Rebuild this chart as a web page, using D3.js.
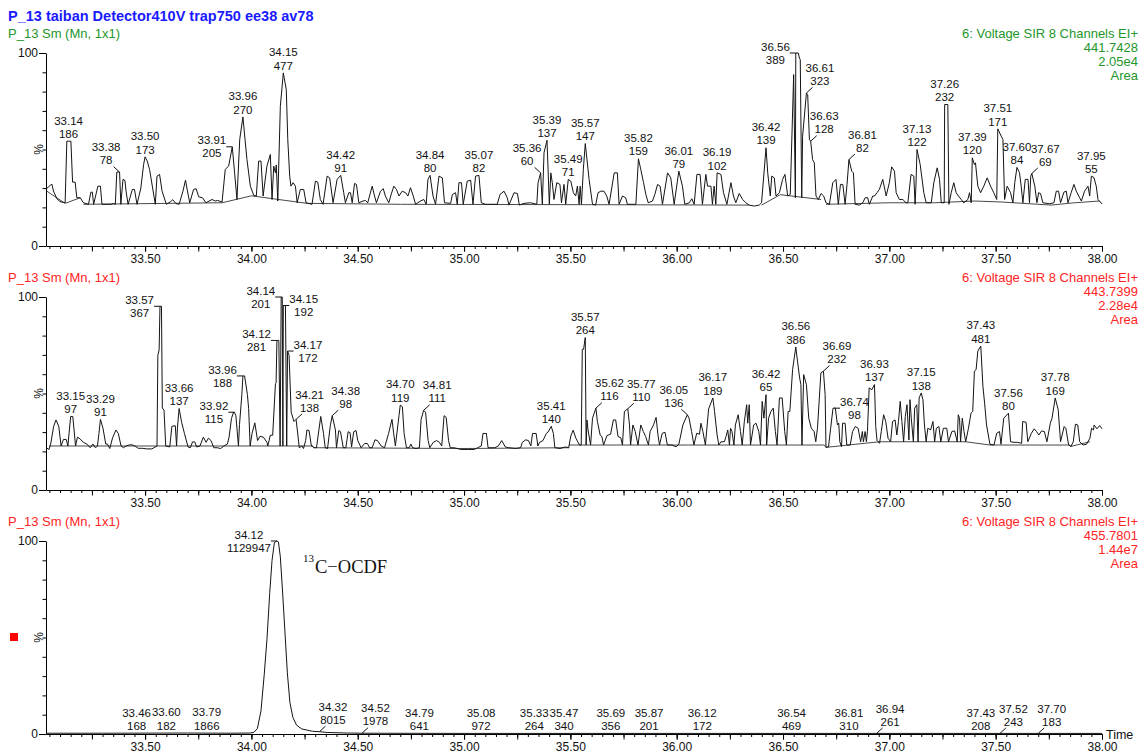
<!DOCTYPE html>
<html>
<head>
<meta charset="utf-8">
<script src="https://cdn.jsdelivr.net/npm/d3@7"></script>
<style>
  html, body { margin: 0; padding: 0; background: #fff; }
  svg { display: block; font-family: "Liberation Sans", Arial, sans-serif; }
</style>
</head>
<body>
<svg id="chart" width="1143" height="753"></svg>
<script>
// ---------- run / channel header text ----------
const runTitle = "P_13 taiban Detector410V trap750 ee38 av78";
const traceNames = ["P_13 Sm (Mn, 1x1)", "P_13 Sm (Mn, 1x1)", "P_13 Sm (Mn, 1x1)"];
const functionNames = ["6: Voltage SIR 8 Channels EI+", "6: Voltage SIR 8 Channels EI+", "6: Voltage SIR 8 Channels EI+"];
const channelMasses = ["441.7428", "443.7399", "455.7801"];
const fullScales = ["2.05e4", "2.28e4", "1.44e7"];
const scaleUnits = ["Area", "Area", "Area"];

// ---------- axes ----------
const timeRange = [33.034, 38.0];
const xTickLabels = ["33.50", "34.00", "34.50", "35.00", "35.50", "36.00", "36.50", "37.00", "37.50", "38.00"];
const yTickValues = [0, 100];
const yTickLabels = ["0", "100"];
const xAxisTitle = "Time";
const compoundName = ["13", "C\u2212OCDF"];

// ---------- m/z 441.7428 trace: [time (min), relative intensity %] ----------
const trace441 = [
[33.034,29.5],[33.045,30.5],[33.055,31.5],[33.062,32.0],[33.069,28.5],[33.085,24.5],[33.100,23.0],[33.124,22.4],
[33.132,54.3],[33.140,54.3],[33.151,54.3],[33.159,33.1],[33.171,33.1],[33.179,25.0],[33.195,25.0],[33.210,22.4],[33.234,21.6],
[33.245,27.9],[33.252,27.9],[33.258,21.6],[33.278,31.0],[33.290,31.0],[33.297,21.6],[33.340,21.6],[33.350,22.0],[33.360,21.6],
[33.367,38.3],[33.380,38.3],[33.386,21.6],[33.396,34.5],[33.405,34.0],[33.411,28.0],[33.420,21.6],
[33.440,29.3],[33.450,29.3],[33.462,21.6],[33.480,30.0],[33.493,42.2],[33.500,46.2],[33.510,44.0],[33.521,39.7],[33.548,21.6],
[33.556,36.2],[33.568,37.1],[33.580,28.4],[33.600,21.6],[33.620,23.0],[33.630,24.0],[33.645,22.0],[33.660,21.6],
[33.678,28.4],[33.690,34.1],[33.700,28.0],[33.710,22.4],[33.728,29.3],[33.740,29.7],[33.752,25.5],[33.770,25.0],[33.786,22.4],
[33.815,24.1],[33.830,23.3],[33.841,23.6],[33.862,22.8],[33.877,39.7],[33.893,41.4],[33.910,51.4],[33.921,37.9],[33.932,24.1],
[33.945,55.2],[33.960,66.9],[33.970,55.2],[33.979,44.8],[33.995,31.0],[34.011,26.2],[34.023,25.9],[34.034,44.0],[34.045,44.0],[34.055,25.9],
[34.073,41.4],[34.089,47.4],[34.097,24.1],[34.105,41.4],[34.113,37.9],[34.117,42.0],[34.124,23.3],[34.136,72.4],[34.150,89.7],[34.164,81.0],
[34.171,55.2],[34.180,36.2],[34.186,31.0],[34.196,32.8],[34.207,31.0],[34.215,22.4],[34.230,29.3],[34.246,29.3],[34.257,22.4],[34.285,21.6],
[34.301,33.6],[34.312,33.1],[34.324,24.1],[34.337,21.6],[34.356,36.2],[34.368,35.3],[34.384,22.4],[34.403,34.5],[34.420,36.6],[34.434,27.6],
[34.442,22.4],[34.458,27.6],[34.466,27.6],[34.474,22.4],[34.485,32.4],[34.494,31.9],[34.505,22.4],[34.525,23.3],[34.536,23.6],[34.547,22.4],
[34.568,31.0],[34.579,25.9],[34.588,22.4],[34.607,28.4],[34.620,29.7],[34.630,25.9],[34.646,22.4],
[34.658,27.0],[34.670,31.0],[34.682,29.3],[34.694,25.9],[34.709,28.4],[34.725,27.6],[34.736,25.9],[34.748,30.2],[34.761,25.9],[34.772,21.6],
[34.795,23.3],[34.811,24.1],[34.822,21.6],[34.830,34.5],[34.840,36.6],[34.854,25.9],[34.866,21.6],[34.882,36.2],[34.898,35.3],[34.908,22.4],
[34.937,22.1],[34.945,26.7],[34.960,27.6],[34.968,21.6],[34.976,32.8],[34.988,32.8],[34.996,21.6],[35.015,33.6],[35.031,34.1],[35.042,21.6],
[35.054,36.2],[35.070,36.6],[35.081,22.4],[35.101,21.6],[35.156,21.6],[35.169,26.7],[35.188,28.4],[35.203,25.0],[35.211,21.2],[35.235,27.6],
[35.251,27.2],[35.260,21.2],[35.282,22.1],[35.313,22.4],[35.342,21.6],[35.348,32.8],[35.360,37.9],[35.368,21.6],[35.376,48.3],[35.390,54.8],
[35.401,21.6],[35.408,37.9],[35.415,32.8],[35.423,24.1],[35.436,32.8],[35.451,31.9],[35.458,22.4],[35.470,31.9],[35.478,21.6],[35.490,34.5],
[35.502,33.6],[35.514,27.6],[35.525,25.9],[35.533,31.0],[35.541,21.6],[35.546,31.0],[35.552,21.6],[35.561,39.7],[35.570,53.1],[35.588,34.5],
[35.604,21.6],[35.619,21.2],[35.630,27.6],[35.643,28.4],[35.658,28.4],[35.671,25.9],[35.682,21.6],[35.706,37.9],[35.721,37.9],[35.729,21.6],
[35.745,25.9],[35.760,25.0],[35.768,21.6],[35.808,21.6],[35.820,45.2],[35.831,39.7],[35.844,32.8],[35.855,26.7],[35.866,22.4],[35.886,23.3],
[35.897,26.7],[35.910,31.9],[35.922,31.0],[35.933,21.6],[35.957,37.9],[35.972,35.3],[35.988,21.6],[36.010,38.8],[36.027,31.0],[36.038,21.6],
[36.059,22.4],[36.071,24.5],[36.082,21.6],[36.095,37.1],[36.110,37.1],[36.121,21.6],[36.137,37.1],[36.145,31.0],[36.161,31.0],[36.168,21.6],
[36.176,31.0],[36.184,21.6],[36.190,37.9],[36.208,37.1],[36.220,27.6],[36.236,21.6],[36.255,32.8],[36.267,25.9],[36.278,22.4],[36.294,27.2],
[36.310,24.1],[36.325,22.4],[36.341,21.2],
[36.365,20.7],[36.388,21.2],[36.399,22.4],[36.420,50.9],[36.428,37.9],[36.440,25.9],[36.447,36.2],[36.459,35.3],[36.467,25.9],[36.483,27.6],
[36.498,34.5],[36.509,37.1],[36.522,25.9],[36.534,26.7],[36.550,88.8],[36.558,25.0],[36.560,100],[36.572,100],[36.577,97.4],[36.581,96.6],
[36.588,25.0],[36.592,56.9],[36.610,79.3],[36.616,78.4],[36.624,55.2],[36.630,54.3],[36.639,44.8],[36.647,43.1],[36.655,25.9],[36.666,24.1],
[36.679,27.2],[36.691,25.9],[36.702,22.4],[36.718,21.6],[36.734,32.8],[36.749,34.5],[36.760,21.6],[36.770,31.9],[36.781,31.9],[36.792,21.6],
[36.801,31.9],[36.810,44.8],[36.823,38.8],[36.831,37.9],[36.839,21.6],[36.859,21.2],[36.875,22.4],[36.886,25.0],[36.898,25.0],[36.906,21.6],
[36.922,25.9],[36.930,25.9],[36.942,27.6],[36.953,29.3],[36.969,34.5],[36.985,25.9],[37.000,32.8],[37.011,41.0],[37.024,38.8],[37.032,27.6],
[37.047,24.1],[37.063,24.1],[37.079,22.4],[37.087,22.4],[37.102,37.1],[37.115,36.2],[37.121,21.6],[37.125,31.0],[37.130,50.0],[37.145,42.2],
[37.162,27.6],[37.173,22.4],[37.197,22.4],[37.209,32.8],[37.225,40.5],[37.236,34.5],[37.244,22.4],[37.258,22.4],[37.260,73.3],[37.275,73.3],
[37.280,21.6],[37.291,27.6],[37.303,32.8],[37.314,27.6],[37.325,25.9],[37.338,24.1],[37.350,22.4],[37.369,24.1],[37.377,27.6],[37.385,22.4],
[37.390,45.7],[37.400,42.2],[37.405,43.1],[37.416,31.0],[37.429,27.6],[37.444,31.0],[37.460,35.3],[37.476,31.0],[37.491,27.6],[37.505,24.1],
[37.510,60.7],[37.526,56.9],[37.534,55.2],[37.542,24.1],[37.554,31.0],[37.570,27.6],[37.581,22.4],[37.590,33.0],[37.600,40.7],[37.612,38.0],
[37.620,31.0],[37.628,22.4],[37.639,34.5],[37.652,34.5],[37.659,22.4],[37.665,36.2],[37.670,37.6],[37.684,31.0],[37.694,22.4],[37.702,27.6],
[37.711,27.2],[37.722,22.4],[37.753,21.9],[37.774,22.4],[37.785,28.4],[37.796,28.4],[37.805,22.4],[37.821,27.9],[37.832,28.4],[37.840,22.4],
[37.855,27.6],[37.868,31.9],[37.879,28.4],[37.895,25.0],[37.903,23.3],[37.918,28.4],[37.934,31.0],[37.942,25.9],[37.950,36.2],[37.962,35.5],
[37.973,31.0],[37.981,24.1],[37.992,22.8],[38.000,21.8]
];
const baselines441 = [
  [[33.038,28.4],[33.124,22.1],[33.195,25.0]],
  [[33.210,21.6],[33.862,22.4]],
  [[33.862,22.4],[34.000,26.0],[34.262,22.1],[34.701,21.6]],
  [[34.701,21.6],[35.600,21.4],[36.341,21.2]],
  [[36.399,21.2],[36.487,26.6],[36.679,24.1]],
  [[36.702,21.6],[37.000,22.4],[37.212,22.4],[37.400,23.3],[37.526,22.8],[37.761,21.2],[37.871,22.4],[37.989,23.3]]
];
const peakTimes441 = [33.14,33.38,33.50,33.91,33.96,34.15,34.42,34.84,35.07,35.36,35.39,35.49,35.57,35.82,36.01,36.19,36.42,36.56,36.61,36.63,36.81,37.13,37.26,37.39,37.51,37.60,37.67,37.95];
const peakAreas441 = [186,78,173,205,270,477,91,80,82,60,137,71,147,159,79,102,139,389,323,128,82,122,232,120,171,84,69,55];

// ---------- m/z 443.7399 trace ----------
const trace443 = [
[33.034,22.0],[33.048,21.0],[33.056,23.8],[33.070,33.0],[33.081,36.3],[33.094,33.0],[33.105,22.8],[33.116,26.2],[33.129,26.2],[33.137,22.8],
[33.143,30.0],[33.150,38.1],[33.160,38.1],[33.173,22.8],[33.182,27.4],[33.194,26.5],[33.210,24.7],[33.226,23.8],[33.242,21.9],[33.255,23.8],
[33.266,21.9],[33.276,22.8],[33.283,29.3],[33.290,36.6],[33.302,32.0],[33.315,23.8],[33.323,23.8],[33.334,21.5],[33.347,27.0],[33.363,31.1],
[33.374,29.3],[33.387,22.8],[33.398,21.9],[33.411,22.8],[33.427,23.4],[33.439,23.4],[33.452,22.8],[33.468,21.6],[33.487,21.6],[33.508,21.3],
[33.532,21.3],[33.556,22.8],[33.560,69.8],[33.566,72.6],[33.570,95.2],[33.577,95.2],[33.581,42.5],[33.589,41.3],[33.597,22.8],[33.616,22.3],
[33.626,33.0],[33.642,33.3],[33.648,22.8],[33.652,32.0],[33.660,42.2],[33.672,35.0],[33.685,29.3],[33.702,22.3],[33.713,21.9],[33.723,24.9],
[33.734,24.9],[33.742,22.3],[33.758,22.8],[33.774,27.4],[33.787,24.7],[33.798,26.9],[33.810,25.6],[33.823,21.9],[33.839,21.9],[33.855,21.5],
[33.871,22.8],[33.887,23.8],[33.895,27.4],[33.906,37.0],[33.916,40.3],[33.920,40.3],[33.927,38.5],[33.939,22.8],[33.944,33.9],[33.955,49.5],
[33.960,59.1],[33.968,59.1],[33.981,49.5],[33.987,42.2],[33.994,22.8],[34.003,29.3],[34.016,34.8],[34.029,25.6],[34.040,27.8],[34.056,27.4],
[34.073,24.7],[34.077,22.8],[34.089,28.4],[34.100,28.4],[34.113,55.1],[34.116,55.4],[34.120,77.5],[34.129,77.5],[34.135,22.8],[34.140,100],
[34.145,100],[34.148,22.8],[34.150,95.6],[34.160,95.6],[34.166,22.8],[34.170,72.0],[34.177,69.8],[34.187,40.3],[34.200,35.5],[34.210,36.6],
[34.218,29.0],[34.225,21.9],[34.237,22.8],[34.245,21.5],[34.255,25.6],[34.261,31.1],[34.271,30.8],[34.282,22.8],[34.298,21.9],
[34.306,21.9],[34.326,38.1],[34.339,29.3],[34.347,21.9],[34.358,21.5],[34.371,33.3],[34.380,38.5],[34.395,31.1],[34.400,21.9],[34.411,30.8],
[34.419,30.2],[34.432,21.9],[34.444,21.9],[34.455,30.2],[34.464,29.7],[34.471,22.3],[34.481,30.2],[34.492,30.8],[34.500,25.6],[34.516,21.9],
[34.532,24.1],[34.545,24.1],[34.556,21.9],[34.568,21.9],[34.581,26.0],[34.593,25.6],[34.610,22.8],[34.626,21.9],[34.645,29.3],[34.661,36.6],
[34.669,29.3],[34.677,22.8],[34.694,38.5],[34.700,44.0],[34.710,43.1],[34.718,29.3],[34.729,21.9],[34.742,21.9],[34.750,23.8],[34.758,21.9],
[34.774,21.5],[34.790,21.9],[34.798,36.6],[34.810,41.3],[34.819,40.3],[34.831,25.6],[34.839,21.9],[34.855,24.7],[34.871,25.6],[34.884,24.7],
[34.895,22.8],[34.906,38.5],[34.916,37.6],[34.927,25.6],[34.935,21.9],[34.952,21.9],[34.968,21.5],[34.984,21.0],
[35.016,21.0],[35.048,21.0],[35.064,21.9],[35.081,22.8],[35.089,29.3],[35.105,29.3],[35.113,21.9],[35.145,21.9],[35.161,22.8],[35.177,25.6],
[35.194,22.3],[35.210,21.9],[35.242,21.5],[35.266,21.9],[35.274,24.7],[35.290,26.0],[35.303,25.6],[35.314,22.8],[35.322,29.3],[35.339,29.3],
[35.347,22.8],[35.355,24.7],[35.371,25.6],[35.387,29.3],[35.395,30.0],[35.410,33.0],[35.420,29.3],[35.427,21.9],[35.452,21.5],[35.476,22.3],
[35.492,21.9],[35.502,28.0],[35.513,31.0],[35.526,26.8],[35.543,23.3],[35.551,23.3],[35.556,72.9],[35.562,72.9],[35.570,79.0],[35.574,23.3],
[35.578,36.3],[35.583,31.1],[35.595,23.3],[35.604,37.2],[35.620,42.4],[35.627,35.5],[35.640,28.5],[35.648,27.7],[35.656,23.3],[35.672,28.2],
[35.689,28.9],[35.702,36.3],[35.713,36.3],[35.724,27.7],[35.737,27.1],[35.745,23.3],[35.754,40.7],[35.770,42.1],[35.778,33.7],[35.783,23.3],
[35.794,33.7],[35.805,30.3],[35.818,23.3],[35.831,33.7],[35.843,30.3],[35.854,27.7],[35.867,23.3],[35.875,30.3],[35.891,33.7],[35.903,37.6],
[35.912,28.5],[35.919,23.3],[35.932,29.4],[35.945,29.9],[35.956,23.3],[35.977,23.3],[35.997,22.4],[36.010,23.7],[36.029,33.7],[36.050,39.0],
[36.058,37.2],[36.070,30.3],[36.081,23.3],[36.094,29.4],[36.107,28.9],[36.114,34.6],[36.123,30.3],[36.135,23.3],[36.150,42.0],[36.170,47.7],
[36.178,40.7],[36.190,28.5],[36.198,23.3],[36.208,25.0],[36.224,25.0],[36.232,27.7],[36.240,31.1],[36.248,23.3],[36.253,32.0],[36.260,30.3],
[36.269,23.3],[36.276,33.7],[36.289,39.0],[36.300,30.3],[36.308,23.3],[36.318,35.5],[36.329,44.2],[36.334,34.6],[36.341,44.2],[36.347,23.3],
[36.362,33.7],[36.373,34.6],[36.386,30.3],[36.394,23.3],[36.402,45.9],[36.410,37.2],[36.420,49.4],[36.423,23.3],[36.432,37.2],[36.443,40.7],
[36.454,42.4],[36.464,30.3],[36.472,23.3],[36.483,47.7],[36.496,47.7],[36.508,30.3],[36.516,23.3],[36.524,40.7],[36.532,40.7],[36.545,62.4],
[36.560,74.1],[36.568,66.8],[36.578,58.1],[36.584,54.6],[36.589,23.3],[36.597,59.8],[36.610,54.6],[36.621,37.2],[36.633,32.0],[36.646,30.3],
[36.654,25.0],[36.662,32.0],[36.678,60.7],[36.690,61.6],[36.698,49.4],[36.702,22.1],[36.714,22.4],[36.724,32.0],[36.735,42.4],[36.740,42.4],
[36.746,42.4],[36.756,33.7],[36.762,34.6],[36.767,25.0],[36.775,22.4],[36.780,34.6],[36.792,34.6],[36.800,23.3],[36.816,23.3],[36.827,30.3],
[36.840,32.9],[36.853,32.0],[36.865,25.0],[36.873,30.3],[36.878,25.0],[36.886,30.3],[36.892,25.0],[36.897,30.3],[36.905,52.9],[36.918,52.0],
[36.930,54.6],[36.936,32.9],[36.942,25.7],[36.954,24.2],[36.962,30.3],[36.973,39.0],[36.983,35.5],[36.994,26.8],[37.006,25.0],[37.015,35.5],
[37.027,36.3],[37.035,28.5],[37.043,35.5],[37.051,45.9],[37.059,35.5],[37.067,25.0],[37.075,38.1],[37.083,44.2],[37.092,25.9],[37.097,46.8],
[37.103,37.2],[37.113,25.0],[37.119,42.4],[37.129,44.2],[37.135,25.0],[37.140,47.7],[37.150,50.3],[37.158,46.8],[37.165,33.7],[37.173,25.0],
[37.181,32.0],[37.194,31.1],[37.205,35.5],[37.213,25.0],[37.221,32.0],[37.233,32.9],[37.242,25.0],[37.254,32.0],[37.270,32.0],[37.278,25.0],
[37.294,30.3],[37.307,30.6],[37.319,25.0],[37.324,39.0],[37.330,37.2],[37.335,25.0],[37.343,37.2],[37.351,30.3],[37.359,25.0],[37.372,32.0],
[37.384,39.8],[37.392,40.7],[37.400,61.6],[37.408,62.4],[37.416,72.0],[37.430,74.6],[37.440,53.7],[37.448,45.0],[37.457,33.7],[37.473,23.7],
[37.492,23.3],[37.505,29.4],[37.518,30.3],[37.525,23.7],[37.538,37.2],[37.560,39.8],[37.570,25.0],[37.586,24.7],[37.603,24.7],[37.622,24.2],
[37.627,35.5],[37.643,35.1],[37.651,25.0],[37.668,29.4],[37.681,31.7],[37.692,30.3],[37.703,28.5],[37.716,30.6],[37.729,30.3],[37.741,25.0],
[37.757,34.6],[37.765,37.2],[37.780,47.7],[37.794,41.6],[37.805,25.0],[37.822,32.9],[37.830,32.0],[37.843,23.3],[37.854,22.6],[37.865,25.0],
[37.875,34.1],[37.886,33.7],[37.895,25.0],[37.911,23.3],[37.927,23.7],[37.943,26.8],[37.951,32.0],[37.960,31.1],[37.963,33.7],[37.976,31.7],
[37.989,33.4],[38.000,31.7]
];
const baselines443 = [
  [[33.048,22.8],[34.290,22.8]],
  [[34.290,21.9],[35.000,21.5],[35.494,21.9]],
  [[35.494,23.3],[36.694,23.3],[36.702,22.1],[36.954,25.0],[37.359,25.0],[37.473,23.3],[37.846,23.3],[37.854,22.6],[37.943,25.0]]
];
const peakTimes443 = [33.15,33.29,33.57,33.66,33.92,33.96,34.12,34.14,34.15,34.17,34.21,34.38,34.70,34.81,35.41,35.57,35.62,35.77,36.05,36.17,36.42,36.56,36.69,36.74,36.93,37.15,37.43,37.56,37.78];
const peakAreas443 = [97,91,367,137,115,188,281,201,192,172,138,98,119,111,140,264,116,110,136,189,65,386,232,98,137,138,481,80,169];

// ---------- m/z 455.7801 trace (13C-OCDF) ----------
const trace455 = [
[33.034,0.4],[33.300,0.4],[33.700,0.5],[33.900,0.4],[33.995,0.5],[34.012,0.9],[34.028,2.8],[34.045,12.0],[34.060,30.5],[34.073,48.9],
[34.086,72.9],[34.097,90.0],[34.108,99.2],[34.120,100],[34.127,99.5],[34.136,91.8],[34.146,74.6],[34.158,52.3],[34.169,31.7],[34.181,16.3],
[34.195,8.6],[34.212,4.6],[34.237,2.6],[34.288,1.4],[34.320,1.2],[34.356,0.8],[34.450,0.5],[34.525,0.4],[35.000,0.3],[38.000,0.3]
];
const baselines455 = [];
const peakTimes455 = [33.46,33.60,33.79,34.12,34.32,34.52,34.79,35.08,35.33,35.47,35.69,35.87,36.12,36.54,36.81,36.94,37.43,37.52,37.70];
const peakAreas455 = [168,182,1866,1129947,8015,1978,641,972,264,340,356,201,172,469,310,261,208,243,183];

// ---------- layout & style ----------
const W = 1143, H = 753;
const plotLeft = 46, plotRight = 1102;
const panelTop = 53, panelBottom = 246, panelStep = 244;
const headerColors = ["#23962b", "#ff2424", "#ff2424"];
const titleColor = "#1a1aff";
const inkColor = "#111";
const sansFamily = "'Liberation Sans', Arial, sans-serif";
const serifFamily = "'Liberation Serif', 'Times New Roman', serif";

// label placement: n = centred above apex, lb/rb = beside apex with a short
// horizontal tie, ll/rl = offset above-left/right with a slanted leader.
const labelPlacement = [
  { "33.38": "ll", "33.91": "lb", "35.36": "ll", "36.56": "lb", "36.61": "rl", "36.63": "rl", "36.81": "rl", "37.67": "rl" },
  { "33.57": "lb", "33.92": "lb", "33.96": "lb", "34.12": "lb", "34.14": "lb", "34.15": "rb", "34.17": "rb",
    "34.21": "rl", "34.38": "rl", "34.81": "rl", "35.62": "rl", "35.77": "rl", "36.05": "ll", "36.69": "rl", "36.74": "rb" },
  { "34.12": "lb", "34.32": "rl", "34.52": "rl", "36.94": "rl", "37.52": "rl", "37.70": "rl" }
];

const panels = [
  { trace: trace441, baselines: baselines441, times: peakTimes441, areas: peakAreas441 },
  { trace: trace443, baselines: baselines443, times: peakTimes443, areas: peakAreas443 },
  { trace: trace455, baselines: baselines455, times: peakTimes455, areas: peakAreas455 }
];

const svg = d3.select("#chart");
svg.append("rect").attr("width", W).attr("height", H).attr("fill", "#fff");

const x = d3.scaleLinear().domain(timeRange).range([plotLeft, plotRight]);

const minorTicks = d3.range(Math.ceil(timeRange[0] * 20), Math.round(timeRange[1] * 20) + 1).map(k => k / 20);
const majorTicks = d3.range(Math.ceil(timeRange[0] * 4), Math.round(timeRange[1] * 4) + 1).map(k => k / 4);
const labelTicks = xTickLabels.map(Number);

// run title
svg.append("text").attr("x", 8).attr("y", 20.5)
  .attr("fill", titleColor).attr("font-size", 14.5).attr("font-weight", "bold")
  .text(runTitle);

panels.forEach((p, i) => {
  const off = i * panelStep;
  const y = d3.scaleLinear().domain([0, 100]).range([panelBottom + off, panelTop + off]);
  const g = svg.append("g");

  // channel header (left and right)
  g.append("text").attr("x", 8).attr("y", 37.5 + off).attr("fill", headerColors[i])
    .attr("font-size", 13).text(traceNames[i]);
  [functionNames[i], channelMasses[i], fullScales[i], scaleUnits[i]].forEach((s, k) => {
    g.append("text").attr("x", 1138).attr("y", 37.5 + off + k * 14.3).attr("text-anchor", "end")
      .attr("fill", headerColors[i]).attr("font-size", 13).text(s);
  });

  // y axis
  g.append("g").attr("transform", `translate(${plotLeft},0)`)
    .call(d3.axisLeft(y).tickValues(d3.range(0, 101, 10)).tickSize(3.5).tickFormat("").tickSizeOuter(0));
  const yl = g.append("g").attr("transform", `translate(${plotLeft},0)`)
    .call(d3.axisLeft(y).tickValues(yTickValues).tickSize(7).tickPadding(1)
      .tickFormat((d, k) => yTickLabels[k]));
  yl.select(".domain").remove();
  yl.selectAll("text").attr("font-size", 12).attr("font-family", sansFamily).attr("fill", inkColor);

  g.append("text").attr("transform", `translate(43,${(y(0) + y(100)) / 2}) rotate(-90)`)
    .attr("text-anchor", "middle").attr("font-size", 12).attr("fill", inkColor).text("%");

  // x axis
  const xb = panelBottom + off;
  g.append("g").attr("transform", `translate(0,${xb})`)
    .call(d3.axisBottom(x).tickValues(minorTicks).tickSize(3).tickFormat("").tickSizeOuter(0));
  g.append("g").attr("transform", `translate(0,${xb})`)
    .call(d3.axisBottom(x).tickValues(majorTicks).tickSize(5.5).tickFormat("").tickSizeOuter(0))
    .select(".domain").remove();
  const xl = g.append("g").attr("transform", `translate(0,${xb})`)
    .call(d3.axisBottom(x).tickValues(labelTicks).tickSize(5.5).tickPadding(2.5)
      .tickFormat((d, k) => xTickLabels[k]).tickSizeOuter(0));
  xl.select(".domain").remove();
  xl.selectAll("text").attr("font-size", 12).attr("font-family", sansFamily).attr("fill", inkColor);

  g.selectAll(".domain, .tick line").attr("stroke", "#000");

  // integration baselines
  const line = d3.line().x(d => x(d[0])).y(d => y(d[1]));
  g.append("g").selectAll("path").data(p.baselines).join("path")
    .attr("d", line).attr("fill", "none").attr("stroke", "#333").attr("stroke-width", 0.9);

  // chromatogram trace
  g.append("path").datum(p.trace).attr("d", line)
    .attr("fill", "none").attr("stroke", "#141414").attr("stroke-width", 1)
    .attr("stroke-linejoin", "miter").attr("stroke-miterlimit", 2);

  // peak labels (retention time / area)
  const lg = g.append("g").attr("font-size", 11.5).attr("fill", inkColor);
  p.times.forEach((t, k) => {
    const apex = p.trace.reduce((a, b) => Math.abs(b[0] - t) < Math.abs(a[0] - t) ? b : a);
    const ax = x(t), ay = y(apex[1]);
    const mode = labelPlacement[i][t.toFixed(2)] || "n";
    const t1 = lg.append("text").attr("text-anchor", "middle").text(t.toFixed(2));
    const t2 = lg.append("text").attr("text-anchor", "middle").text(String(p.areas[k]));
    const w = Math.max(t1.node().getComputedTextLength(), t2.node().getComputedTextLength());
    let cx = ax, b1 = ay - 16.6, b2 = ay - 3.3;
    if (mode === "lb" || mode === "rb") {
      const gap = 6;
      cx = mode === "lb" ? ax - gap - w / 2 : ax + gap + w / 2;
      b1 = ay - 2.4; b2 = ay + 10.6;
      lg.append("line").attr("x1", ax).attr("x2", mode === "lb" ? ax - gap : ax + gap)
        .attr("y1", ay).attr("y2", ay).attr("stroke", inkColor).attr("stroke-width", 1);
    } else if (mode === "ll" || mode === "rl") {
      const s = mode === "ll" ? -1 : 1;
      cx = ax + s * 13.5; b1 = ay - 20.8; b2 = ay - 7.8;
      lg.append("line").attr("x1", ax).attr("y1", ay).attr("x2", ax + s * 6).attr("y2", ay - 5.5)
        .attr("stroke", inkColor).attr("stroke-width", 1);
    }
    t1.attr("x", cx).attr("y", b1);
    t2.attr("x", cx).attr("y", b2);
  });
});

// compound annotation and marker in the bottom channel
const ann = svg.append("text").attr("x", 303).attr("y", 573)
  .attr("font-family", serifFamily).attr("fill", "#111");
ann.append("tspan").attr("font-size", 11).attr("dy", -11).text(compoundName[0]);
ann.append("tspan").attr("font-size", 18.5).attr("dy", 11).attr("dx", 1).text(compoundName[1]);

svg.append("rect").attr("x", 10).attr("y", 633).attr("width", 8).attr("height", 8).attr("fill", "#ff0000");

svg.append("text").attr("x", 1106).attr("y", panelBottom + 2 * panelStep + 4.5)
  .attr("font-size", 12.5).attr("fill", inkColor).text(xAxisTitle);
</script>
</body>
</html>
